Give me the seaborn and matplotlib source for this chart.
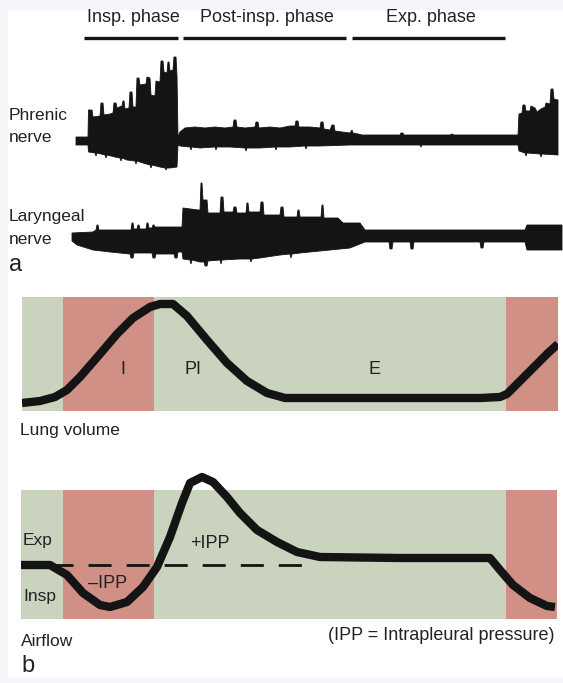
import numpy as np
import matplotlib
matplotlib.use("Agg")
import matplotlib.pyplot as plt
from matplotlib.patches import Rectangle
import seaborn as sns

W, H = 563, 683

# panel a: phases of the respiratory cycle (time in samples)
phase_names = ["Insp. phase", "Post-insp. phase", "Exp. phase"]
phase_start = [84, 183, 352]
phase_end = [178, 346, 505]

# phrenic nerve activity envelope (time, amplitude)
phr_top = [(76, 4), (88, 4), (88.5, 31), (92, 31), (93, 24), (100, 25), (101, 38), (103, 38),
           (104, 26), (110, 27), (113, 28), (114, 38), (116, 38), (117, 33), (122, 35), (123, 40),
           (124, 40), (125, 32), (129, 33), (130, 49), (132, 49), (133, 34), (136, 34), (137, 63),
           (139, 63), (140, 56), (146, 57), (147, 64), (150, 63), (151, 46), (155, 45), (156, 60),
           (160, 59), (161, 80), (163, 80), (164, 69), (167, 68), (168, 79), (169, 79), (170, 70),
           (173, 71), (174, 84), (176, 84), (177, 65), (178, 4),
           (180, 9), (185, 13), (195, 14), (205, 13), (215, 14), (225, 13), (233, 14), (234, 21),
           (236, 21), (237, 14), (245, 13), (255, 14), (256, 19), (258, 19), (259, 13), (270, 14),
           (280, 13), (290, 15), (295, 15), (296, 20), (298, 20), (299, 14), (310, 14), (320, 13),
           (321, 19), (323, 19), (324, 12), (330, 11), (332, 16), (334, 16), (335, 10), (342, 9),
           (350, 8), (352, 11), (353, 8), (358, 7), (362, 6),
           (400, 6), (401, 8), (403, 8), (404, 6), (450, 6), (452, 7), (454, 6), (518, 6),
           (519, 27), (522, 28), (523, 36), (525, 36), (526, 30), (530, 30), (531, 35), (535, 33),
           (537, 29), (541, 32), (545, 34), (546, 38), (550, 37), (551, 52), (553, 52), (554, 42),
           (558, 41)]
phr_bot = [(76, -4), (88, -4), (88.5, -11), (95, -12), (96, -15), (97, -12), (105, -14),
           (106, -17), (107, -14), (115, -16), (120, -17), (121, -20), (122, -17), (127, -19),
           (135, -20), (136, -23), (137, -20), (143, -22), (150, -24), (151, -27), (152, -24),
           (160, -26), (165, -27), (166, -29), (167, -27), (170, -27), (177, -26), (178, -4),
           (180, -5), (190, -6), (191, -9), (192, -6), (200, -7), (215, -6), (216, -9), (217, -6),
           (230, -6), (245, -7), (246, -10), (247, -7), (260, -7), (275, -6), (276, -9), (277, -6),
           (290, -6), (305, -5), (306, -8), (307, -5), (320, -5), (350, -4), (362, -4),
           (420, -4), (421, -6), (422, -4), (518, -4), (519, -10), (525, -12), (526, -15),
           (527, -12), (540, -13), (541, -16), (542, -13), (558, -14)]

# laryngeal nerve activity envelope (time, amplitude)
lar_top = [(72, 4), (93, 5), (96, 7), (97, 12), (98, 12), (99, 7), (127, 7), (131, 7), (132, 14),
           (133, 14), (134, 8), (137, 8), (138, 12), (139, 12), (140, 8), (146, 8), (147, 14),
           (148, 14), (149, 9), (152, 9), (153, 12), (154, 12), (155, 10), (182, 10), (183, 29),
           (198, 27), (200, 27), (201, 54), (202, 54), (203, 37), (207, 37), (208, 24), (220, 24),
           (221, 40), (223, 40), (224, 25), (233, 25), (234, 30), (236, 30), (237, 24), (246, 24),
           (247, 34), (248, 34), (249, 25), (260, 25), (261, 35), (263, 35), (264, 22), (280, 22),
           (281, 30), (283, 30), (284, 20), (297, 20), (298, 27), (299, 27), (300, 20), (321, 20),
           (322, 32), (323, 32), (324, 19), (338, 19), (343, 14), (360, 14), (365, 7), (525, 7),
           (527, 12), (562, 12)]
lar_bot = [(72, -4), (77, -8), (93, -13), (110, -15), (130, -17), (131, -21), (133, -21),
           (134, -16), (152, -16), (153, -21), (155, -21), (156, -17), (174, -17), (175, -21),
           (177, -21), (178, -15), (182, -15), (183, -22), (190, -23), (191, -27), (192, -23),
           (200, -25), (204, -25), (205, -29), (207, -29), (208, -24), (220, -23), (221, -27),
           (222, -23), (240, -22), (250, -22), (251, -25), (252, -22), (260, -21), (280, -18),
           (290, -17), (291, -21), (292, -17), (300, -16), (320, -14),
           (350, -11), (365, -5), (389, -5), (390, -12), (392, -12), (393, -5), (410, -5),
           (411, -12), (413, -12), (414, -5), (480, -5), (481, -11), (483, -11), (484, -5),
           (525, -5), (527, -13), (562, -13)]

# panel b: inspiration bands
band_start = [63, 506]
band_end = [154, 558]

# lung volume
lung_t = [22, 40, 55, 67, 80, 100, 117, 133, 150, 160, 173, 187, 207, 227, 247, 267, 285, 310,
          400, 480, 500, 507, 520, 535, 548, 558]
lung_v = [8, 10, 14, 21, 34, 57, 77, 93, 104, 107, 107, 95, 71, 48, 30, 18, 13, 13,
          13, 13, 14, 17, 30, 45, 58, 67]

# airflow (positive = expiration)
flow_t = [21, 50, 67, 83, 100, 110, 127, 143, 157, 170, 182, 190, 202, 213, 227, 240, 257, 277,
          297, 320, 400, 490, 500, 513, 530, 547, 555]
flow_f = [0, 0, -10, -28, -40, -42, -37, -22, -2, 28, 62, 82, 88, 83, 68, 52, 35, 23,
          13, 8, 7, 7, -5, -20, -33, -41, -42]
zero_start, zero_end = 50, 313

sns.set_theme(style="white")
plt.rcParams["font.family"] = ["Liberation Sans", "DejaVu Sans"]

INK = "#141414"
SAGE = "#c9d3be"
ROSE = "#d09085"

fig = plt.figure(figsize=(W / 100, H / 100), dpi=100)
fig.patch.set_facecolor("#f3f5f9")
fig.patches.append(Rectangle((8 / W, 1 - 678 / H), 1, (678 - 10) / H,
                             transform=fig.transFigure, facecolor="white", edgecolor="none",
                             zorder=-5))


def px_axes(x0, y0, x1, y1):
    ax = fig.add_axes([x0 / W, 1 - y1 / H, (x1 - x0) / W, (y1 - y0) / H])
    return ax


def envelope(ax, top, bot):
    top = np.array(top, dtype=float)
    bot = np.array(bot, dtype=float)
    xs = np.concatenate([top[:, 0], bot[::-1, 0]])
    ys = np.concatenate([top[:, 1], bot[::-1, 1]])
    ax.fill(xs, ys, color=INK, lw=0.6, ec=INK)


# nerve recordings
ax_phr = px_axes(0, 40, W, 180)
envelope(ax_phr, phr_top, phr_bot)
ax_phr.set_xlim(0, W)
ax_phr.set_ylim(-39, 101)

ax_lar = px_axes(0, 170, W, 280)
envelope(ax_lar, lar_top, lar_bot)
ax_lar.set_xlim(0, W)
ax_lar.set_ylim(-43, 67)

for ax in (ax_phr, ax_lar):
    ax.axis("off")

# lung volume
ax_vol = px_axes(22, 297, 558, 411)
ax_vol.set_facecolor(SAGE)
for s, e in zip(band_start, band_end):
    ax_vol.axvspan(s, e, color=ROSE, lw=0)
sns.lineplot(x=lung_t, y=lung_v, ax=ax_vol, color=INK, lw=6, sort=False,
             solid_capstyle="butt", solid_joinstyle="round")
ax_vol.set_xlim(22, 558)
ax_vol.set_ylim(0, 114)

# airflow
ax_flow = px_axes(21, 490, 557, 619)
ax_flow.set_facecolor(SAGE)
for s, e in zip(band_start, band_end):
    ax_flow.axvspan(s, e, color=ROSE, lw=0)
ax_flow.plot([zero_start, zero_end], [0, 0], color=INK, lw=2, dashes=(8.3, 5.4))
sns.lineplot(x=flow_t, y=flow_f, ax=ax_flow, color=INK, lw=6, sort=False,
             solid_capstyle="butt", solid_joinstyle="round")
for ln in ax_flow.lines:
    ln.set_clip_on(False)
ax_flow.set_xlim(21, 557)
ax_flow.set_ylim(-54, 75)

for ax in (ax_vol, ax_flow):
    ax.set_xticks([])
    ax.set_yticks([])
    ax.set_xlabel("")
    ax.set_ylabel("")
    for sp in ax.spines.values():
        sp.set_visible(False)

# labels, placed in pixel coordinates
ov = fig.add_axes([0, 0, 1, 1], zorder=10)
ov.set_xlim(0, W)
ov.set_ylim(H, 0)
ov.axis("off")
ov.patch.set_alpha(0)

fs = 13
for name, s, e in zip(phase_names, phase_start, phase_end):
    ov.text((s + e) / 2 + 2, 18, name, ha="center", va="center", fontsize=fs, color="#222222")
ov.hlines([38] * len(phase_start), phase_start, phase_end, color=INK, lw=2.4)

side = dict(ha="left", va="center", fontsize=12.5, color="#222222")
ov.text(9, 116, "Phrenic", **side)
ov.text(9, 138, "nerve", **side)
ov.text(9, 217, "Laryngeal", **side)
ov.text(9, 240, "nerve", **side)
ov.text(9, 265, "a", ha="left", va="center", fontsize=17, color="#222222")

mid = dict(ha="center", va="center", fontsize=fs, color="#222222")
ov.text(123, 369, "I", **mid)
ov.text(193, 369, "PI", **mid)
ov.text(374, 369, "E", **mid)
ov.text(20, 431, "Lung volume", **side)

ov.text(23, 540, "Exp", **side)
ov.text(23, 597, "Insp", **side)
ov.text(210, 543, "+IPP", **mid)
ov.text(108, 584, "\u2013IPP", **mid)
ov.text(21, 641, "Airflow", **side)
ov.text(555, 635, "(IPP = Intrapleural pressure)", ha="right", va="center", fontsize=fs,
        color="#222222")
ov.text(21, 666, "b", ha="left", va="center", fontsize=17, color="#222222")

fig.savefig("out.png", dpi=100, facecolor=fig.get_facecolor())
